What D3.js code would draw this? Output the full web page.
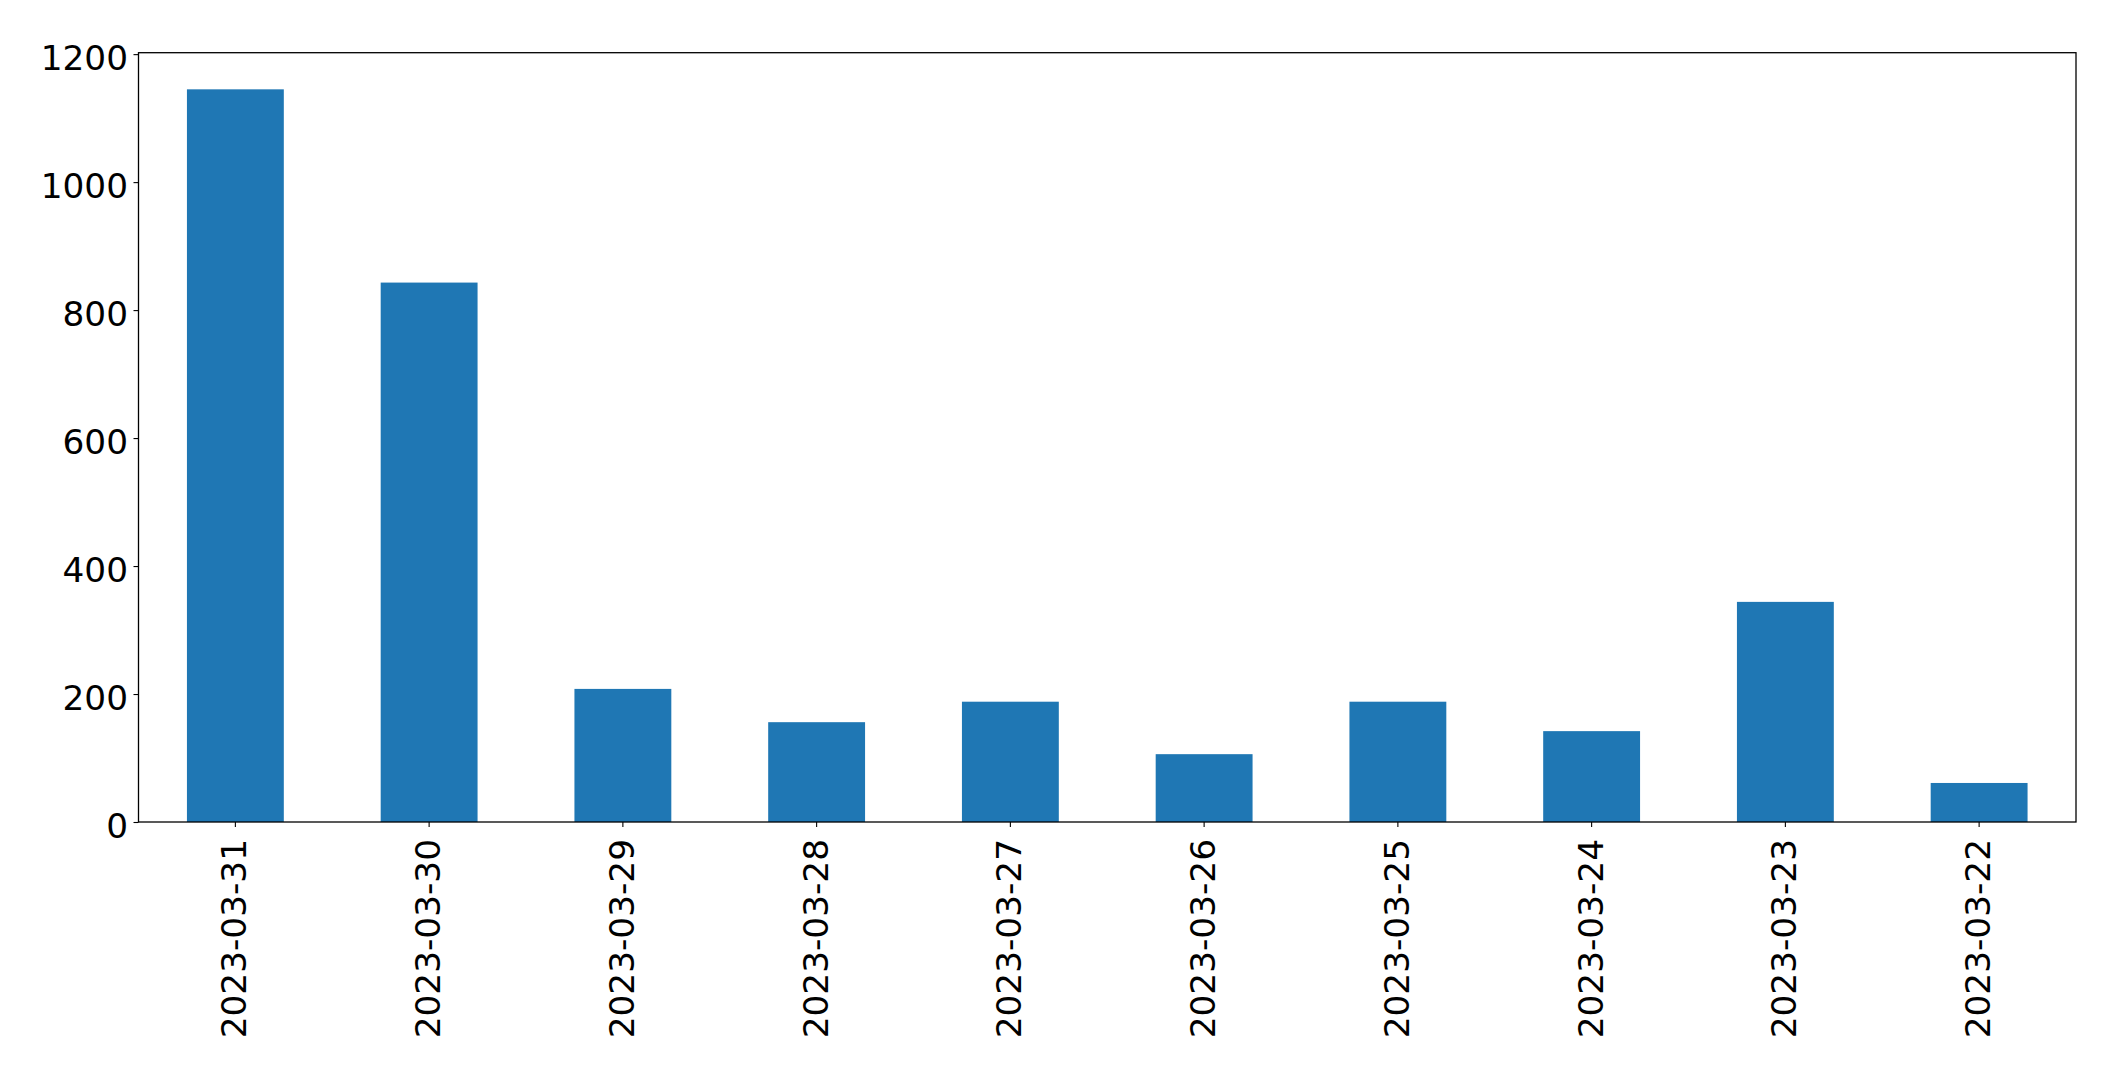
<!DOCTYPE html>
<html>
<head>
<meta charset="utf-8">
<script src="https://cdn.jsdelivr.net/npm/d3@7"></script>
<style>
  html, body { margin: 0; padding: 0; background: #fff; }
  svg { display: block; }
  text { font-family: "DejaVu Sans", sans-serif; fill: #000; }
</style>
</head>
<body>
<svg id="chart" width="2115" height="1074"></svg>
<script>
const categories = ["2023-03-31", "2023-03-30", "2023-03-29", "2023-03-28", "2023-03-27",
                    "2023-03-26", "2023-03-25", "2023-03-24", "2023-03-23", "2023-03-22"];
const values = [1145, 843, 208, 156, 188, 106, 188, 142, 344, 61];
const yTicks = [0, 200, 400, 600, 800, 1000, 1200];

const plotLeft = 138.5, plotRight = 2076, plotTop = 52.7, plotBottom = 822;
const fontSize = 34.3;

const svg = d3.select("#chart");

const x = d3.scaleBand().domain(categories).range([plotLeft, plotRight]).paddingInner(0.5).paddingOuter(0.25);
const y = d3.scaleLinear().domain([0, d3.max(values) * 1.05]).range([plotBottom, plotTop]);

// bars
svg.append("g").selectAll("rect").data(values).join("rect")
  .attr("x", (d, i) => x(categories[i]))
  .attr("width", x.bandwidth())
  .attr("y", d => y(d))
  .attr("height", d => y(0) - y(d))
  .attr("fill", "#1f77b4");

// y axis
const yAxis = d3.axisLeft(y).tickValues(yTicks).tickSize(5).tickPadding(6).tickFormat(d3.format("d"));
const gy = svg.append("g").attr("transform", `translate(${plotLeft},0)`).call(yAxis);
gy.select(".domain").remove();
gy.selectAll(".tick line").attr("stroke", "#000").attr("stroke-width", 1.1);
gy.selectAll(".tick text")
  .attr("font-size", fontSize)
  .attr("font-family", "DejaVu Sans")
  .attr("dy", null)
  .attr("y", 15)
  .attr("x", -10.5);

// x axis
const xAxis = d3.axisBottom(x).tickSize(5).tickPadding(0);
const gx = svg.append("g").attr("transform", `translate(0,${plotBottom})`).call(xAxis);
gx.select(".domain").remove();
gx.selectAll(".tick line").attr("stroke", "#000").attr("stroke-width", 1.1);
gx.selectAll(".tick text")
  .attr("font-size", fontSize)
  .attr("font-family", "DejaVu Sans")
  .attr("dy", null)
  .attr("y", null)
  .attr("text-anchor", "end")
  .attr("transform", "translate(11,17) rotate(-90)");

// frame
svg.append("rect")
  .attr("x", plotLeft).attr("y", plotTop)
  .attr("width", plotRight - plotLeft).attr("height", plotBottom - plotTop)
  .attr("fill", "none").attr("stroke", "#000").attr("stroke-width", 1.3);
</script>
</body>
</html>
